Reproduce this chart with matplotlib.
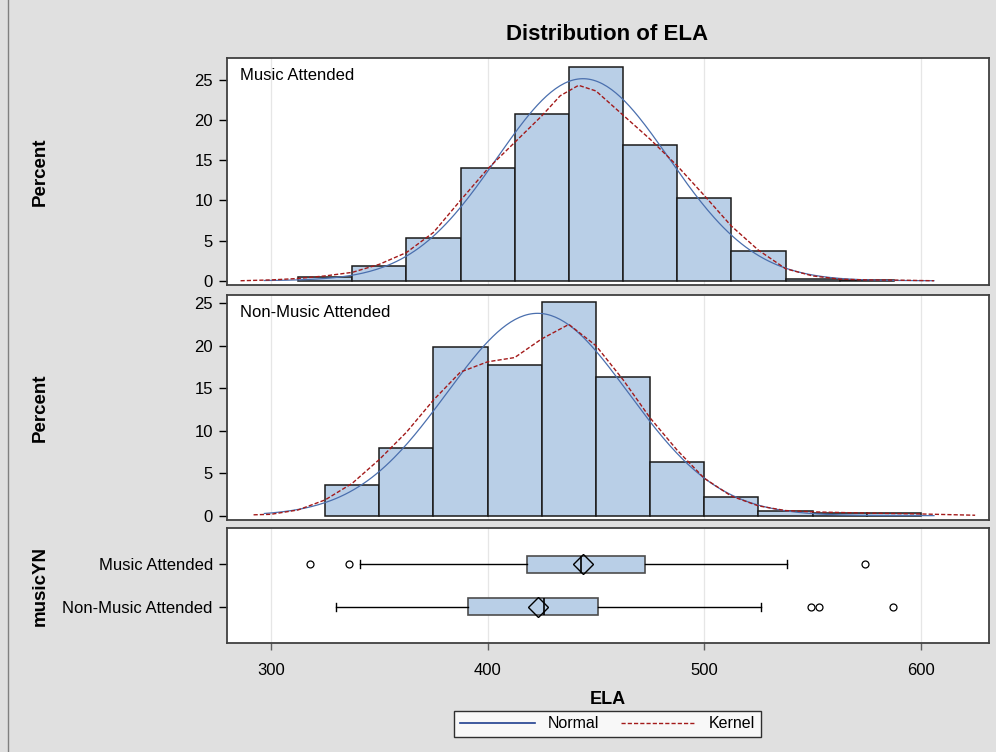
import matplotlib
matplotlib.use("Agg")
import matplotlib.pyplot as plt
import numpy as np
from matplotlib.lines import Line2D

plt.rcParams["font.family"] = ["Liberation Sans", "DejaVu Sans"]

# histogram bins (lower edges, width 25) and percents
bin_width = 25
music_bins = [312.5, 337.5, 362.5, 387.5, 412.5, 437.5, 462.5, 487.5, 512.5, 537.5, 562.5]
music_pct = [0.42, 1.87, 5.35, 13.98, 20.77, 26.6, 16.84, 10.29, 3.7, 0.2, 0.15]
nonmusic_bins = [325, 350, 375, 400, 425, 450, 475, 500, 525, 550, 575]
nonmusic_pct = [3.6, 7.93, 19.9, 17.73, 25.1, 16.35, 6.3, 2.24, 0.6, 0.35, 0.35]

# fitted normal parameters (mean, std dev)
music_mean, music_sd = 444.0, 39.7
nonmusic_mean, nonmusic_sd = 423.1, 41.9

# kernel density curves, read as (ELA, percent) points
music_kde_x = [286, 300, 312.5, 325, 337.5, 350, 362.5, 375, 387.5, 400, 412.5, 425, 433.5,
               442, 450, 462.5, 475, 487.5, 500, 512.5, 525, 537.5, 550, 562.5, 575, 587.5, 606]
music_kde_y = [0.0, 0.1, 0.28, 0.6, 1.04, 2.04, 3.5, 6.0, 10.0, 13.9, 17.2, 20.5, 23.0,
               24.3, 23.6, 20.6, 17.6, 14.3, 10.6, 6.8, 3.8, 1.5, 0.6, 0.2, 0.1, 0.08, 0.0]
nonmusic_kde_x = [292, 300, 312.5, 325, 337.5, 350, 362.5, 375, 387.5, 400, 412.5, 425, 437.5,
                  450, 462.5, 475, 487.5, 500, 512.5, 525, 537.5, 550, 575, 600, 625]
nonmusic_kde_y = [0.1, 0.16, 0.67, 1.85, 3.8, 6.6, 9.8, 13.6, 16.9, 18.1, 18.6, 20.8, 22.5,
                  20.0, 16.0, 11.5, 7.7, 4.4, 2.3, 1.15, 0.6, 0.45, 0.3, 0.2, 0.05]

# box plot summaries
groups = ["Non-Music Attended", "Music Attended"]
box_q1 = [391.1, 418.0]
box_med = [426.2, 443.0]
box_q3 = [451.1, 472.6]
box_mean = [423.1, 444.0]
box_lo = [330.0, 341.0]
box_hi = [526.2, 538.2]
box_fliers = [[549.1, 553.0, 586.9], [318.0, 336.0, 574.0]]

BG = "#e0e0e0"
BAR = "#b9cfe7"
NORMAL = "#4a6fae"
NORMAL_LEG = "#1f3f8f"
KERNEL = "#a31a1a"
FRAME = "#404040"

W, H = 996, 752
fig = plt.figure(figsize=(W / 100, H / 100), dpi=100, facecolor=BG)


def px_axes(top, bottom, left=226.7, right=989):
    return fig.add_axes([left / W, 1 - bottom / H, (right - left) / W, (bottom - top) / H])


ax1 = px_axes(58.3, 285)
ax2 = px_axes(295, 520)
ax3 = px_axes(527.7, 643.3)

xlim = (279.6, 631.4)
xt = [300, 400, 500, 600]


def norm_pct(x, mu, sd):
    return 100 * bin_width * np.exp(-0.5 * ((x - mu) / sd) ** 2) / (sd * np.sqrt(2 * np.pi))


def hist_panel(ax, bins, pct, mu, sd, kx, ky, label, ylim):
    ax.bar(bins, pct, width=bin_width, align="edge", color=BAR, edgecolor="#1a1a1a",
           linewidth=1.1, zorder=2)
    xs = np.linspace(297, 606, 300)
    ax.plot(xs, norm_pct(xs, mu, sd), color=NORMAL, lw=0.9, zorder=3)
    ax.plot(kx, ky, color=KERNEL, lw=1.0, linestyle=(0, (3, 1.5)), zorder=4)
    ax.set_xlim(*xlim)
    ax.set_ylim(*ylim)
    ax.set_xticks(xt)
    ax.tick_params(axis="x", length=0, labelbottom=False)
    ax.set_yticks([0, 5, 10, 15, 20, 25])
    ax.tick_params(axis="y", direction="out", length=6, width=1, labelsize=12, pad=4)
    ax.grid(axis="x", color="#e6e6e6", lw=0.9, zorder=0)
    ax.set_axisbelow(True)
    for s in ax.spines.values():
        s.set_color(FRAME)
        s.set_linewidth(1.3)
    ax.text(13.3 / 762.3, 0.923, label, transform=ax.transAxes, fontsize=12,
            va="center", ha="left")


hist_panel(ax1, music_bins, music_pct, music_mean, music_sd, music_kde_x, music_kde_y,
           "Music Attended", (-0.53, 27.66))
hist_panel(ax2, nonmusic_bins, nonmusic_pct, nonmusic_mean, nonmusic_sd, nonmusic_kde_x,
           nonmusic_kde_y, "Non-Music Attended", (-0.51, 25.96))

stats = []
for i in range(len(groups)):
    stats.append(dict(med=box_med[i], q1=box_q1[i], q3=box_q3[i], whislo=box_lo[i],
                      whishi=box_hi[i], fliers=box_fliers[i], mean=box_mean[i], label=groups[i]))
ax3.bxp(stats, positions=[0, 1], widths=0.39, capwidths=0.19, vert=False, patch_artist=True,
        showmeans=True,
        boxprops=dict(facecolor=BAR, edgecolor="#4d4d4d", linewidth=1.2),
        medianprops=dict(color="black", linewidth=1.2),
        whiskerprops=dict(color="black", linewidth=1),
        capprops=dict(color="black", linewidth=1),
        flierprops=dict(marker="o", markerfacecolor="none", markeredgecolor="black",
                        markersize=5, markeredgewidth=0.9),
        meanprops=dict(marker="D", markerfacecolor="none", markeredgecolor="black",
                       markersize=10, markeredgewidth=1))
ax3.set_xlim(*xlim)
ax3.set_ylim(-0.863, 1.863)
ax3.set_xticks(xt)
ax3.set_xticklabels([str(v) for v in xt])
ax3.tick_params(axis="x", direction="out", length=5, width=1, color="#606060",
                labelsize=12, pad=9)
ax3.tick_params(axis="y", direction="out", length=6, width=1, labelsize=12, pad=4)
ax3.grid(axis="x", color="#e6e6e6", lw=0.9, zorder=0)
ax3.set_axisbelow(True)
for s in ax3.spines.values():
    s.set_color(FRAME)
    s.set_linewidth(1.3)

# labels and title
fig.text(607 / W, 1 - 35 / H, "Distribution of ELA", fontsize=16, fontweight="bold",
         ha="center", va="center")
fig.text(40 / W, 1 - 171.7 / H, "Percent", fontsize=13.5, fontweight="bold", rotation=90,
         ha="center", va="center")
fig.text(40 / W, 1 - 407.5 / H, "Percent", fontsize=13.5, fontweight="bold", rotation=90,
         ha="center", va="center")
fig.text(40 / W, 1 - 585.5 / H, "musicYN", fontsize=13.5, fontweight="bold", rotation=90,
         ha="center", va="center")
fig.text(608 / W, 1 - 699 / H, "ELA", fontsize=13, fontweight="bold", ha="center",
         va="center")

handles = [Line2D([], [], color=NORMAL_LEG, lw=1.2),
           Line2D([], [], color=KERNEL, lw=1.0, linestyle=(0, (3, 1.5)))]
leg = fig.legend(handles, ["Normal", "Kernel"], loc="center", ncol=2,
                 bbox_to_anchor=(607.5 / W, 1 - 724 / H), frameon=True, fancybox=False,
                 edgecolor="black", fontsize=11.5, handlelength=4.7, columnspacing=1.4,
                 handletextpad=0.8, borderpad=0.35)
leg.get_frame().set_linewidth(1.0)

fig.add_artist(Line2D([8 / W, 8 / W], [0, 1], transform=fig.transFigure, color="#808080",
                      lw=1))

fig.savefig("out.png", dpi=100, facecolor=BG)
